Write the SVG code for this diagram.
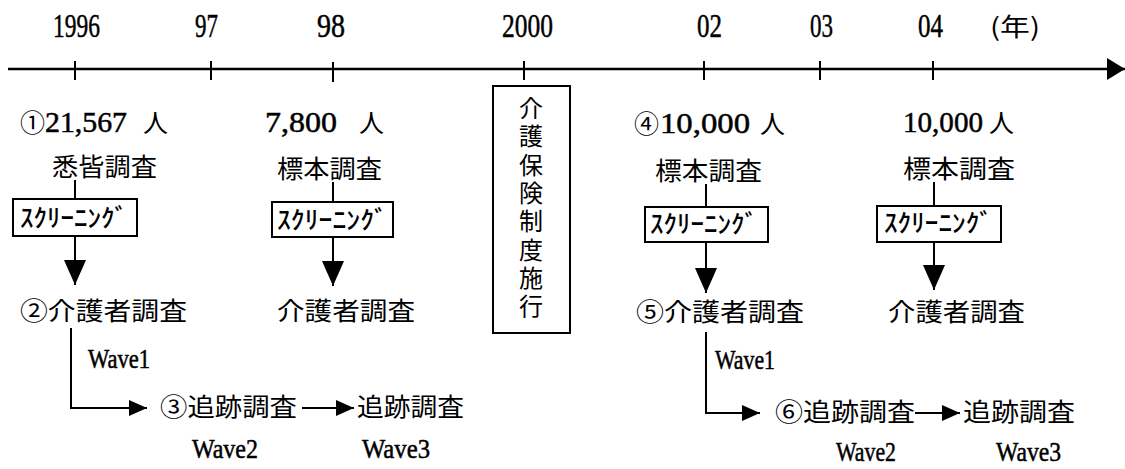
<svg xmlns="http://www.w3.org/2000/svg" width="1125" height="469" viewBox="0 0 1125 469">
<style>
.cjk{font-family:"Noto Sans CJK JP","Noto Sans CJK SC",sans-serif;font-size:25px;fill:#000}
.num{font-family:"Liberation Serif",serif;font-size:33px;fill:#000;stroke:#000;stroke-width:0.5px}
.cnt{font-family:"Liberation Serif",serif;font-size:29px;fill:#000;stroke:#000;stroke-width:0.5px}
.kana{font-family:"Noto Sans CJK JP",sans-serif;font-size:25px;font-weight:500;fill:#000}
.wave{font-family:"Liberation Serif",serif;font-size:27px;fill:#000;stroke:#000;stroke-width:0.5px}
.vt{font-family:"Noto Sans CJK JP",sans-serif;font-size:24px;fill:#000;writing-mode:tb;letter-spacing:4.3px}
.ln{stroke:#000;stroke-width:2;fill:none}
.axis{stroke:#000;stroke-width:2.5;fill:none}
.box{fill:#fff;stroke:#000;stroke-width:2}
</style>
<defs>
<marker id="big" markerUnits="userSpaceOnUse" viewBox="0 0 25 22" refX="25" refY="11" markerWidth="25" markerHeight="22" orient="auto"><path d="M0,0 L25,11 L0,22 Z" fill="#000"/></marker>
<marker id="sm" markerUnits="userSpaceOnUse" viewBox="0 0 18 16" refX="18" refY="8" markerWidth="18" markerHeight="16" orient="auto"><path d="M0,0 L18,8 L0,16 Z" fill="#000"/></marker>
<marker id="ax" markerUnits="userSpaceOnUse" viewBox="0 0 18 22" refX="18" refY="11" markerWidth="18" markerHeight="22" orient="auto"><path d="M0,0 L18,11 L0,22 Z" fill="#000"/></marker>
</defs>

<g id="timeline">
<path class="axis" d="M8,69 H1125" marker-end="url(#ax)"/>
<path class="ln" d="M75,61 V80 M211,61 V80 M333,62 V82 M524,61 V80 M704,61 V80 M820,61 V80 M933,61 V80"/>
<text class="num" x="53" y="37" textLength="47" lengthAdjust="spacingAndGlyphs">1996</text>
<text class="num" x="195" y="37" textLength="23" lengthAdjust="spacingAndGlyphs">97</text>
<text class="num" x="317" y="37" textLength="28" lengthAdjust="spacingAndGlyphs">98</text>
<text class="num" x="502" y="37" textLength="51" lengthAdjust="spacingAndGlyphs">2000</text>
<text class="num" x="697" y="37" textLength="25" lengthAdjust="spacingAndGlyphs">02</text>
<text class="num" x="810" y="37" textLength="23" lengthAdjust="spacingAndGlyphs">03</text>
<text class="num" x="918" y="37" textLength="25" lengthAdjust="spacingAndGlyphs">04</text>
<text class="cjk" x="990" y="36" font-size="22" textLength="50" lengthAdjust="spacingAndGlyphs">(年)</text>
</g>

<g id="connectors">
<path class="ln" d="M75,180 V199"/>
<path class="ln" d="M75,236 V285" marker-end="url(#big)"/>
<path class="ln" d="M71,328 V408 H147" marker-end="url(#sm)"/>
<path class="ln" d="M302,408 H354" marker-end="url(#sm)"/>
<path class="ln" d="M333,182 V202"/>
<path class="ln" d="M333,237 V286" marker-end="url(#big)"/>
<path class="ln" d="M706,184 V207"/>
<path class="ln" d="M706,242 V293" marker-end="url(#big)"/>
<path class="ln" d="M706,332 V413 H760" marker-end="url(#sm)"/>
<path class="ln" d="M915,413 H960" marker-end="url(#sm)"/>
<path class="ln" d="M934,182 V206"/>
<path class="ln" d="M934,242 V290" marker-end="url(#big)"/>
</g>

<g id="n1996-count"><text class="cjk" x="20" y="132" font-size="24">①</text><text class="cnt" x="45" y="132" textLength="82" lengthAdjust="spacingAndGlyphs">21,567</text><text class="cjk" x="143" y="132">人</text></g>
<g id="n1996-type"><text class="cjk" x="52" y="176" textLength="105" lengthAdjust="spacingAndGlyphs">悉皆調査</text></g>
<g id="n1996-screen"><rect class="box" x="13" y="199" width="124" height="37"/><text class="kana" x="20" y="227" textLength="108" lengthAdjust="spacingAndGlyphs">ｽｸﾘｰﾆﾝｸﾞ</text></g>
<g id="n1996-carer"><text class="cjk" x="20" y="320" textLength="167" lengthAdjust="spacingAndGlyphs">②介護者調査</text></g>
<g id="n1996-wave1"><text class="wave" x="88" y="368" textLength="62" lengthAdjust="spacingAndGlyphs">Wave1</text></g>
<g id="n1996-follow1"><text class="cjk" x="160" y="416" textLength="137" lengthAdjust="spacingAndGlyphs">③追跡調査</text><text class="wave" x="192" y="458" textLength="66" lengthAdjust="spacingAndGlyphs">Wave2</text></g>
<g id="n1996-follow2"><text class="cjk" x="357" y="416" textLength="107" lengthAdjust="spacingAndGlyphs">追跡調査</text><text class="wave" x="362" y="458" textLength="68" lengthAdjust="spacingAndGlyphs">Wave3</text></g>

<g id="n1998-count"><text class="cnt" x="265" y="132" textLength="72" lengthAdjust="spacingAndGlyphs">7,800</text><text class="cjk" x="359" y="132">人</text></g>
<g id="n1998-type"><text class="cjk" x="277" y="178" textLength="105" lengthAdjust="spacingAndGlyphs">標本調査</text></g>
<g id="n1998-screen"><rect class="box" x="272" y="202" width="121" height="35"/><text class="kana" x="277" y="229" textLength="111" lengthAdjust="spacingAndGlyphs">ｽｸﾘｰﾆﾝｸﾞ</text></g>
<g id="n1998-carer"><text class="cjk" x="277" y="320" textLength="138" lengthAdjust="spacingAndGlyphs">介護者調査</text></g>

<g id="n2000-law"><rect class="box" x="493" y="86" width="77" height="247"/>
<text class="vt" x="531" y="96">介護保険制度施行</text></g>

<g id="n2002-count"><text class="cjk" x="634" y="133" font-size="24">④</text><text class="cnt" x="660" y="133" textLength="90" lengthAdjust="spacingAndGlyphs">10,000</text><text class="cjk" x="760" y="133">人</text></g>
<g id="n2002-type"><text class="cjk" x="655" y="180" textLength="107" lengthAdjust="spacingAndGlyphs">標本調査</text></g>
<g id="n2002-screen"><rect class="box" x="645" y="207" width="123" height="35"/><text class="kana" x="650" y="233" textLength="108" lengthAdjust="spacingAndGlyphs">ｽｸﾘｰﾆﾝｸﾞ</text></g>
<g id="n2002-carer"><text class="cjk" x="636" y="321" textLength="168" lengthAdjust="spacingAndGlyphs">⑤介護者調査</text></g>
<g id="n2002-wave1"><text class="wave" x="715" y="369" textLength="60" lengthAdjust="spacingAndGlyphs">Wave1</text></g>
<g id="n2002-follow1"><text class="cjk" x="775" y="421" textLength="140" lengthAdjust="spacingAndGlyphs">⑥追跡調査</text><text class="wave" x="836" y="461" textLength="60" lengthAdjust="spacingAndGlyphs">Wave2</text></g>
<g id="n2002-follow2"><text class="cjk" x="963" y="421" textLength="112" lengthAdjust="spacingAndGlyphs">追跡調査</text><text class="wave" x="996" y="461" textLength="65" lengthAdjust="spacingAndGlyphs">Wave3</text></g>

<g id="n2004-count"><text class="cnt" x="903" y="132" textLength="80" lengthAdjust="spacingAndGlyphs">10,000</text><text class="cjk" x="989" y="132">人</text></g>
<g id="n2004-type"><text class="cjk" x="903" y="178" textLength="112" lengthAdjust="spacingAndGlyphs">標本調査</text></g>
<g id="n2004-screen"><rect class="box" x="877" y="206" width="124" height="36"/><text class="kana" x="884" y="232" textLength="109" lengthAdjust="spacingAndGlyphs">ｽｸﾘｰﾆﾝｸﾞ</text></g>
<g id="n2004-carer"><text class="cjk" x="888" y="321" textLength="137" lengthAdjust="spacingAndGlyphs">介護者調査</text></g>
</svg>
